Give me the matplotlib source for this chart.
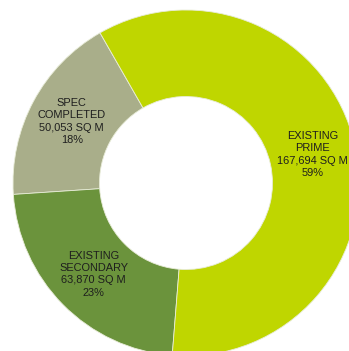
import matplotlib.pyplot as plt
import numpy as np

# floor space by category (sq m)
categories = ["SPEC\nCOMPLETED", "EXISTING\nSECONDARY", "EXISTING\nPRIME"]
areas = [50053, 63870, 167694]
pct_labels = ["18%", "23%", "59%"]
colors = ["#a9ae8a", "#6b933c", "#bfd600"]

plt.rcParams['font.family'] = ['Liberation Sans', 'DejaVu Sans']

fig = plt.figure(figsize=(3.49, 3.51), dpi=100)
ax = fig.add_axes([0, 0, 1, 1])

wedges, _ = ax.pie(areas, colors=colors, startangle=119.8, counterclock=True,
                   radius=1.0, wedgeprops=dict(width=0.5, edgecolor="#e8ecd8", linewidth=0.6))

for w, cat, a, p in zip(wedges, categories, areas, pct_labels):
    mid = np.deg2rad((w.theta1 + w.theta2) / 2)
    r = 0.75
    txt = f"{cat}\n{a:,} SQ M\n{p}"
    ax.text(r * np.cos(mid), r * np.sin(mid), txt, ha="center", va="center",
            fontsize=7.9, color="#1e1e1e", linespacing=1.3)

# centre sits off-middle, ring runs past the right and bottom edges
R = 173.0
ax.set_aspect("auto")
ax.set_xlim(-186 / R, (349 - 186) / R)
ax.set_ylim(-(351 - 183) / R, 183 / R)
ax.axis("off")

fig.savefig("out.png", dpi=100)
